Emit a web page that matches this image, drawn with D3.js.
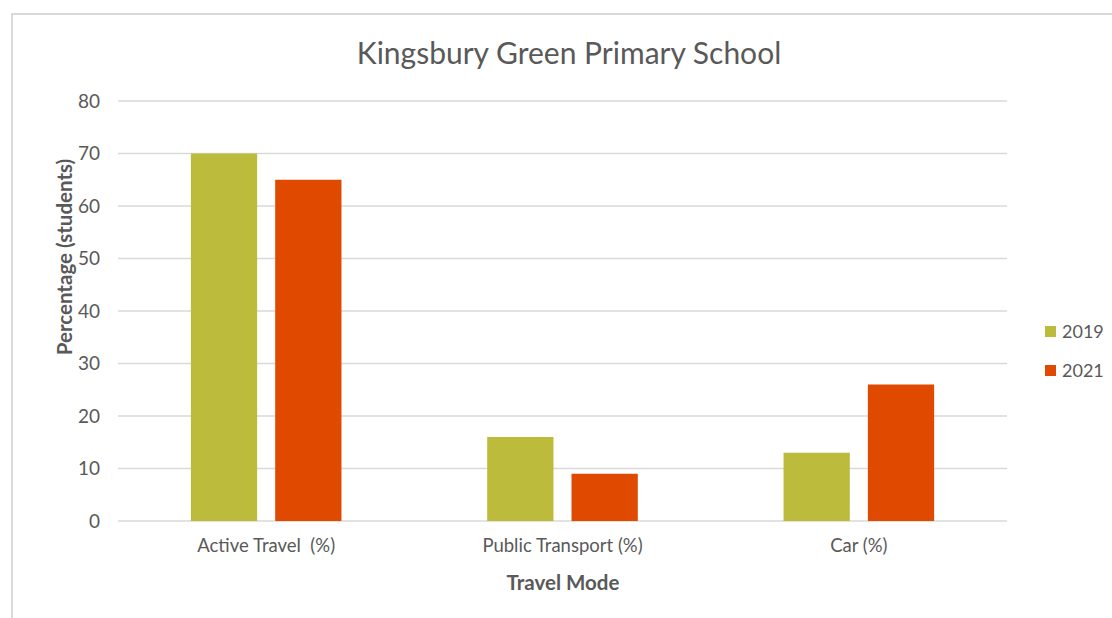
<!DOCTYPE html>
<html>
<head>
<meta charset="utf-8">
<script src="https://cdn.jsdelivr.net/npm/d3@7"></script>
<style>
  body { margin: 0; background: #fff; }
  text { font-family: Lato, "Open Sans", sans-serif; fill: #595959; white-space: pre; }
</style>
</head>
<body>
<div id="chart"></div>
<script>
let categories = ["Active Travel  (%)", "Public Transport (%)", "Car (%)"];
let years = ["2019", "2021"];
let values2019 = [70, 16, 13];
let values2021 = [65, 9, 26];
let yTicks = [0, 10, 20, 30, 40, 50, 60, 70, 80];
let colors = ["#bcbb3c", "#df4a00"];

let width = 1112;
let height = 618;

let rows = categories.map((c, i) => ({ cat: c, vals: [values2019[i], values2021[i]] }));

let svg = d3.select("#chart")
            .append("svg")
            .attr("width", width)
            .attr("height", height);

// outer chart border (cropped at right and bottom)
svg.append("rect")
   .attr("x", 12)
   .attr("y", 14)
   .attr("width", 1200)
   .attr("height", 700)
   .attr("fill", "none")
   .attr("stroke", "#d9d9d9")
   .attr("stroke-width", 2);

let xScale = d3.scaleBand()
               .domain(categories)
               .range([118, 1007]);

let inner = (xScale.bandwidth() - 150.6) / 2;
let xInner = d3.scaleBand()
               .domain(years)
               .range([inner, xScale.bandwidth() - inner])
               .paddingInner(0.214);

let yScale = d3.scaleLinear()
               .domain([0, 80])
               .range([521, 101]);

// gridlines
svg.append("g")
   .selectAll("line")
   .data(yTicks)
   .enter()
   .append("line")
   .attr("x1", 118)
   .attr("x2", 1007)
   .attr("y1", d => yScale(d))
   .attr("y2", d => yScale(d))
   .attr("stroke", "#d9d9d9")
   .attr("stroke-width", 1.5);

// y axis labels
let yAxis = d3.axisLeft(yScale).tickValues(yTicks).tickSize(0).tickPadding(0);
let yG = svg.append("g")
   .attr("transform", "translate(100, 0)")
   .call(yAxis);
yG.select(".domain").remove();
yG.selectAll("text")
  .style("font-size", "19px")
  .attr("fill", "#595959");

// x axis labels
let xAxis = d3.axisBottom(xScale).tickSize(0).tickPadding(0);
let xG = svg.append("g")
   .attr("transform", "translate(0, 539)")
   .call(xAxis);
xG.select(".domain").remove();
xG.selectAll("text")
  .style("font-size", "18.5px")
  .style("white-space", "pre")
  .attr("fill", "#595959");

// bars
let groups = svg.append("g")
   .selectAll("g")
   .data(rows)
   .enter()
   .append("g")
   .attr("transform", d => `translate(${xScale(d.cat)}, 0)`);

groups.selectAll("rect")
      .data(d => d.vals.map((v, i) => ({ year: years[i], value: v, i: i })))
      .enter()
      .append("rect")
      .attr("x", d => xInner(d.year))
      .attr("width", xInner.bandwidth())
      .attr("y", d => yScale(d.value))
      .attr("height", d => yScale(0) - yScale(d.value))
      .attr("fill", d => colors[d.i]);

// title
svg.append("text")
   .attr("x", 569)
   .attr("y", 64)
   .attr("text-anchor", "middle")
   .style("font-size", "30px")
   .text("Kingsbury Green Primary School");

// axis titles
svg.append("text")
   .attr("transform", "translate(72, 257) rotate(-90)")
   .attr("text-anchor", "middle")
   .style("font-size", "20.5px")
   .style("font-weight", "bold")
   .text("Percentage (students)");

svg.append("text")
   .attr("x", 563)
   .attr("y", 590)
   .attr("text-anchor", "middle")
   .style("font-size", "20.5px")
   .style("font-weight", "bold")
   .text("Travel Mode");

// legend
let legend = svg.append("g")
   .selectAll("g")
   .data(years)
   .enter()
   .append("g")
   .attr("transform", (d, i) => `translate(1045, ${326 + i * 39})`);

legend.append("rect")
      .attr("width", 11)
      .attr("height", 11)
      .attr("fill", (d, i) => colors[i]);

legend.append("text")
      .attr("x", 17)
      .attr("y", 12)
      .style("font-size", "18px")
      .text(d => d);
</script>
</body>
</html>
